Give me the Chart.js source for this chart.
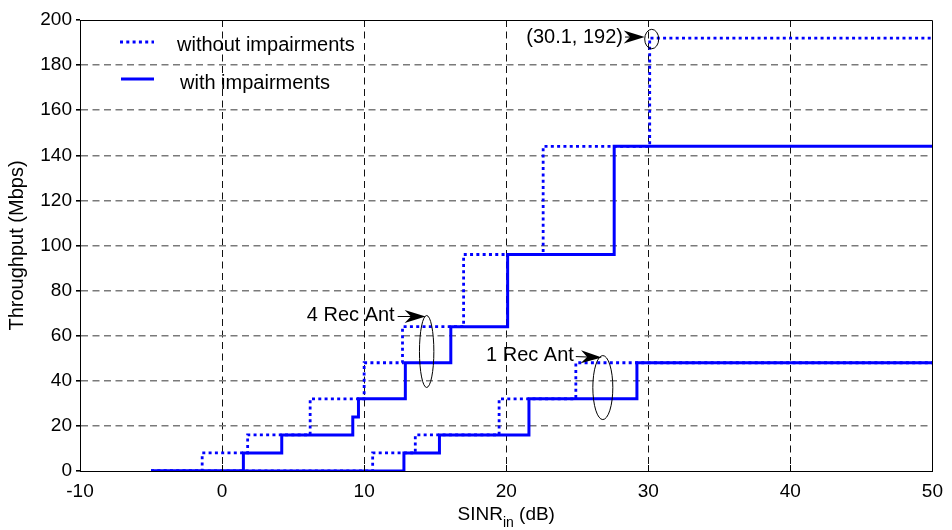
<!DOCTYPE html>
<html>
<head>
<meta charset="utf-8">
<script src="https://cdn.jsdelivr.net/npm/chart.js@4.4.1/dist/chart.umd.min.js"></script>
<style>
  html, body { margin: 0; padding: 0; background: #fff; }
  #wrap { width: 952px; height: 530px; }
</style>
</head>
<body>
<div id="wrap"><canvas id="c" width="952" height="530"></canvas></div>
<script>
// SINR (dB) at which each throughput level begins, and the level (Mbps)
const sinr4NoImp = [-5, -1.4, 1.8, 6.2, 10.0, 12.7, 17.0, 22.6, 30.1, 50];
const thr4NoImp  = [0, 8, 16, 32, 48, 64, 96, 144, 192, 192];
const sinr4Imp   = [-5, 1.5, 4.2, 9.2, 9.6, 12.9, 16.1, 20.1, 27.6, 50];
const thr4Imp    = [0, 8, 16, 24, 32, 48, 64, 96, 144, 144];
const sinr1NoImp = [-5, 10.6, 13.6, 19.5, 24.9, 50];
const thr1NoImp  = [0, 8, 16, 32, 48, 48];
const sinr1Imp   = [-5, 12.8, 15.3, 21.6, 29.2, 50];
const thr1Imp    = [0, 8, 16, 32, 48, 48];

const xTicks = [-10, 0, 10, 20, 30, 40, 50];
const yTicks = [0, 20, 40, 60, 80, 100, 120, 140, 160, 180, 200];

const legendLabels = ['without impairments', 'with impairments'];
const peakLabel = '(30.1, 192)';
const peakPoint = [30.1, 192];
const groupLabels = ['4 Rec Ant', '1 Rec Ant'];
const groupPoints = [[14.4, 53], [26.8, 37]];

const FONT = '"Liberation Sans", Arial, sans-serif';
const BLUE = '#0000ff';
const DOTS = [3, 3.3];

function pts(xs, ys) { return xs.map((v, i) => ({ x: v, y: ys[i] })); }

function stepSet(xs, ys, dotted) {
  return {
    data: pts(xs, ys),
    borderColor: BLUE,
    borderWidth: dotted ? 2.8 : 3,
    borderDash: dotted ? DOTS : [],
    stepped: 'before',
    pointRadius: 0,
    fill: false,
    order: dotted ? 2 : 1
  };
}

function text(ctx, str, x, y, size, align) {
  ctx.save();
  ctx.font = size + 'px ' + FONT;
  ctx.fillStyle = '#000';
  ctx.textBaseline = 'middle';
  ctx.textAlign = align || 'left';
  ctx.fillText(str, x, y);
  ctx.restore();
}

function arrow(ctx, x0, y0, tx, ty) {
  const L = 21, W = 13;
  const ang = Math.atan2(ty - y0, tx - x0);
  ctx.save();
  ctx.strokeStyle = '#000';
  ctx.fillStyle = '#000';
  ctx.lineWidth = 1;
  ctx.beginPath();
  ctx.moveTo(x0, y0);
  ctx.lineTo(tx - L * 0.6 * Math.cos(ang), ty - L * 0.6 * Math.sin(ang));
  ctx.stroke();
  ctx.translate(tx, ty);
  ctx.rotate(ang);
  ctx.beginPath();
  ctx.moveTo(0, 0);
  ctx.lineTo(-L, -W / 2);
  ctx.lineTo(-L * 0.7, 0);
  ctx.lineTo(-L, W / 2);
  ctx.closePath();
  ctx.fill();
  ctx.restore();
}

function ellipse(ctx, cx, cy, rx, ry) {
  ctx.save();
  ctx.strokeStyle = '#000';
  ctx.lineWidth = 1;
  ctx.beginPath();
  ctx.ellipse(cx, cy, rx, ry, 0, 0, Math.PI * 2);
  ctx.stroke();
  ctx.restore();
}

const decorations = {
  id: 'decorations',
  beforeDraw(chart) {
    const ctx = chart.ctx;
    ctx.save();
    ctx.fillStyle = '#fff';
    ctx.fillRect(0, 0, chart.width, chart.height);
    ctx.restore();
  },
  afterDraw(chart) {
    const ctx = chart.ctx;
    const a = chart.chartArea;
    const xs = chart.scales.x, ys = chart.scales.y;

    // axes box
    ctx.save();
    ctx.strokeStyle = '#000';
    ctx.lineWidth = 1;
    ctx.beginPath();
    ctx.rect(Math.round(a.left) + 0.5, Math.round(a.top) + 0.5,
             Math.round(a.right - a.left), Math.round(a.bottom - a.top));
    ctx.stroke();
    // inner ticks on the x axis
    ctx.beginPath();
    xTicks.forEach(v => {
      const px = Math.round(xs.getPixelForValue(v)) + 0.5;
      ctx.moveTo(px, a.bottom);
      ctx.lineTo(px, a.bottom - 6);
    });
    ctx.stroke();
    ctx.restore();

    // legend
    ctx.save();
    ctx.strokeStyle = BLUE;
    ctx.lineWidth = 2.8;
    ctx.setLineDash(DOTS);
    ctx.beginPath();
    ctx.moveTo(120, 42); ctx.lineTo(154, 42);
    ctx.stroke();
    ctx.setLineDash([]);
    ctx.lineWidth = 3;
    ctx.beginPath();
    ctx.moveTo(121, 79); ctx.lineTo(154, 79);
    ctx.stroke();
    ctx.restore();
    text(ctx, legendLabels[0], 177, 45, 20);
    text(ctx, legendLabels[1], 180, 83, 20);

    // peak annotation
    const pk = [xs.getPixelForValue(peakPoint[0]), ys.getPixelForValue(peakPoint[1])];
    ellipse(ctx, pk[0] + 2, pk[1] + 1, 7, 9.7);
    text(ctx, peakLabel, 623, pk[1] - 1, 20, 'right');
    arrow(ctx, 625, pk[1] - 1, pk[0] - 5, pk[1] - 1);

    // receive-antenna group annotations
    const g4 = [xs.getPixelForValue(groupPoints[0][0]), ys.getPixelForValue(groupPoints[0][1])];
    ellipse(ctx, g4[0], g4[1], 7.2, 36);
    text(ctx, groupLabels[0], g4[0] - 32, g4[1] - 36, 20, 'right');
    arrow(ctx, g4[0] - 29, g4[1] - 35, g4[0] - 1, g4[1] - 35);

    const g1 = [xs.getPixelForValue(groupPoints[1][0]), ys.getPixelForValue(groupPoints[1][1])];
    ellipse(ctx, g1[0], g1[1], 10, 32);
    text(ctx, groupLabels[1], g1[0] - 29, g1[1] - 32, 20, 'right');
    arrow(ctx, g1[0] - 27, g1[1] - 31, g1[0] - 1, g1[1] - 30);

    // axis titles
    ctx.save();
    ctx.translate(17, (a.top + a.bottom) / 2);
    ctx.rotate(-Math.PI / 2);
    text(ctx, 'Throughput (Mbps)', 0, 0, 20, 'center');
    ctx.restore();

    ctx.save();
    ctx.font = '19px ' + FONT;
    const w1 = ctx.measureText('SINR').width;
    const w3 = ctx.measureText(' (dB)').width;
    ctx.font = '14px ' + FONT;
    const w2 = ctx.measureText('in').width;
    const cx = (a.left + a.right) / 2;
    let x0 = cx - (w1 + w2 + w3) / 2;
    ctx.fillStyle = '#000';
    ctx.textBaseline = 'alphabetic';
    ctx.font = '19px ' + FONT;
    ctx.fillText('SINR', x0, 520);
    ctx.font = '14px ' + FONT;
    ctx.fillText('in', x0 + w1, 527);
    ctx.font = '19px ' + FONT;
    ctx.fillText(' (dB)', x0 + w1 + w2, 520);
    ctx.restore();
  }
};

new Chart(document.getElementById('c'), {
  type: 'line',
  data: {
    datasets: [
      stepSet(sinr4Imp, thr4Imp, false),
      stepSet(sinr1Imp, thr1Imp, false),
      stepSet(sinr4NoImp, thr4NoImp, true),
      stepSet(sinr1NoImp, thr1NoImp, true)
    ]
  },
  options: {
    responsive: false,
    devicePixelRatio: 1,
    animation: false,
    layout: { padding: { top: 20, right: 14, left: 0, bottom: 0 } },
    plugins: { legend: { display: false }, tooltip: { enabled: false } },
    scales: {
      x: {
        type: 'linear',
        min: -10, max: 50,
        afterBuildTicks: s => { s.ticks = xTicks.map(v => ({ value: v })); },
        afterFit: s => { s.height = 59; },
        border: { display: true, color: '#000', width: 1, dash: [7, 4.5] },
        grid: {
          drawTicks: false,
          color: c => (c.tick && (c.tick.value === -10 || c.tick.value === 50)) ? 'rgba(0,0,0,0)' : '#111',
          lineWidth: 1
        },
        ticks: {
          color: '#000',
          font: { family: FONT, size: 19 },
          padding: 9,
          maxRotation: 0
        }
      },
      y: {
        min: 0, max: 200,
        afterBuildTicks: s => { s.ticks = yTicks.map(v => ({ value: v })); },
        afterFit: s => { s.width = 80; },
        border: { display: true, color: '#000', width: 1, dash: [7, 4.5] },
        grid: {
          drawTicks: true,
          tickLength: 4,
          tickColor: '#000',
          tickBorderDash: [],
          color: c => (c.tick && (c.tick.value === 0 || c.tick.value === 200)) ? 'rgba(0,0,0,0)' : '#7a7a7a',
          lineWidth: 1.6
        },
        ticks: {
          color: '#000',
          font: { family: FONT, size: 19 },
          padding: 4
        }
      }
    }
  },
  plugins: [decorations]
});
</script>
</body>
</html>
